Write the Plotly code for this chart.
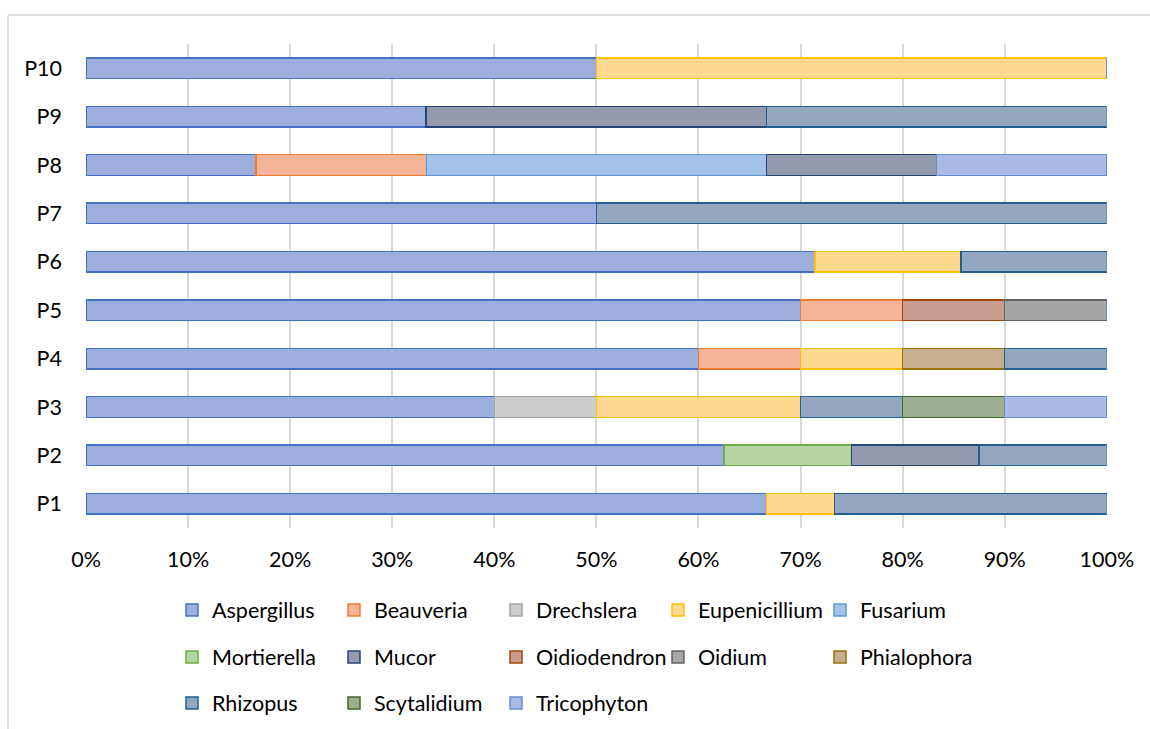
import plotly.graph_objects as go

# Sample plots, bottom to top
plots = ["P1", "P2", "P3", "P4", "P5", "P6", "P7", "P8", "P9", "P10"]

# Relative frequency (share of isolates) of each genus per plot
aspergillus   = [0.6667, 0.625, 0.40, 0.60, 0.70, 0.7143, 0.50, 0.1667, 0.3333, 0.50]
beauveria     = [0, 0, 0, 0.10, 0.10, 0, 0, 0.1667, 0, 0]
drechslera    = [0, 0, 0.10, 0, 0, 0, 0, 0, 0, 0]
eupenicillium = [0.0667, 0, 0.20, 0.10, 0, 0.1429, 0, 0, 0, 0.50]
fusarium      = [0, 0, 0, 0, 0, 0, 0, 0.3333, 0, 0]
mortierella   = [0, 0.125, 0, 0, 0, 0, 0, 0, 0, 0]
mucor         = [0, 0.125, 0, 0, 0, 0, 0, 0.1667, 0.3333, 0]
oidiodendron  = [0, 0, 0, 0, 0.10, 0, 0, 0, 0, 0]
oidium        = [0, 0, 0, 0, 0.10, 0, 0, 0, 0, 0]
phialophora   = [0, 0, 0, 0.10, 0, 0, 0, 0, 0, 0]
rhizopus      = [0.2667, 0.125, 0.10, 0.10, 0, 0.1429, 0.50, 0, 0.3333, 0]
scytalidium   = [0, 0, 0.10, 0, 0, 0, 0, 0, 0, 0]
tricophyton   = [0, 0, 0.10, 0, 0, 0, 0, 0.1667, 0, 0]

genera = [
    ("Aspergillus", aspergillus, "#9DAEDD", "#4472C4"),
    ("Beauveria", beauveria, "#F5B49A", "#ED7D31"),
    ("Drechslera", drechslera, "#CCCCCC", "#A5A5A5"),
    ("Eupenicillium", eupenicillium, "#FFD98F", "#FFC000"),
    ("Fusarium", fusarium, "#A3C2E8", "#5B9BD5"),
    ("Mortierella", mortierella, "#B3D3A0", "#70AD47"),
    ("Mucor", mucor, "#9499AF", "#264478"),
    ("Oidiodendron", oidiodendron, "#C99C90", "#9E480E"),
    ("Oidium", oidium, "#A5A5A5", "#636363"),
    ("Phialophora", phialophora, "#C6AE8E", "#997300"),
    ("Rhizopus", rhizopus, "#94A7C0", "#255E91"),
    ("Scytalidium", scytalidium, "#9EAE92", "#43682B"),
    ("Tricophyton", tricophyton, "#ABBAE5", "#698ED0"),
]

FONT = "Lato, 'Open Sans', sans-serif"
FS = 21.5

fig = go.Figure()
for i, (name, vals, fill, edge) in enumerate(genera):
    legend_id = "legend" if i < 5 else ("legend2" if i < 10 else "legend3")
    fig.add_trace(go.Bar(
        name=name, y=plots, x=vals, orientation="h",
        marker=dict(color=fill, line=dict(color=edge, width=1.5)),
        legend=legend_id,
    ))

W, H = 1150, 729
L, R, T, B = 86, 43, 44, 201
pw, ph = W - L - R, H - T - B

def px_x(x):
    return (x - L) / pw

def px_y(y):
    return (H - B - y) / ph

legend_common = dict(
    orientation="h", xanchor="left", yanchor="middle",
    font=dict(family=FONT, size=FS, color="#000000"),
    entrywidth=117, entrywidthmode="pixels",
    bgcolor="rgba(0,0,0,0)", borderwidth=0, traceorder="normal",
)

fig.update_layout(
    width=W, height=H,
    margin=dict(l=L, r=R, t=T, b=B, pad=0, autoexpand=False),
    barmode="stack", bargap=0.575,
    plot_bgcolor="white", paper_bgcolor="white",
    font=dict(family=FONT, size=FS, color="#000000"),
    xaxis=dict(
        range=[0, 1.0002], dtick=0.1, tick0=0, tickformat=".0%",
        showgrid=True, gridcolor="#D9D9D9", gridwidth=1.5,
        zeroline=False, showline=False, ticks="",
        ticklabelstandoff=16, fixedrange=True,
    ),
    yaxis=dict(
        categoryorder="array", categoryarray=plots,
        showgrid=False, zeroline=False, showline=False, ticks="",
        ticklabelstandoff=23, fixedrange=True,
    ),
    legend=dict(x=px_x(172), y=px_y(610), **legend_common),
    legend2=dict(x=px_x(172), y=px_y(657), **legend_common),
    legend3=dict(x=px_x(172), y=px_y(703), **legend_common),
    shapes=[
        dict(type="line", xref="paper", yref="paper",
             x0=px_x(8), x1=px_x(1160), y0=px_y(15), y1=px_y(15),
             line=dict(color="#D9D9D9", width=1.5)),
        dict(type="line", xref="paper", yref="paper",
             x0=px_x(8), x1=px_x(8), y0=px_y(15), y1=px_y(740),
             line=dict(color="#D9D9D9", width=1.5)),
    ],
)

fig.write_html("out.html")
